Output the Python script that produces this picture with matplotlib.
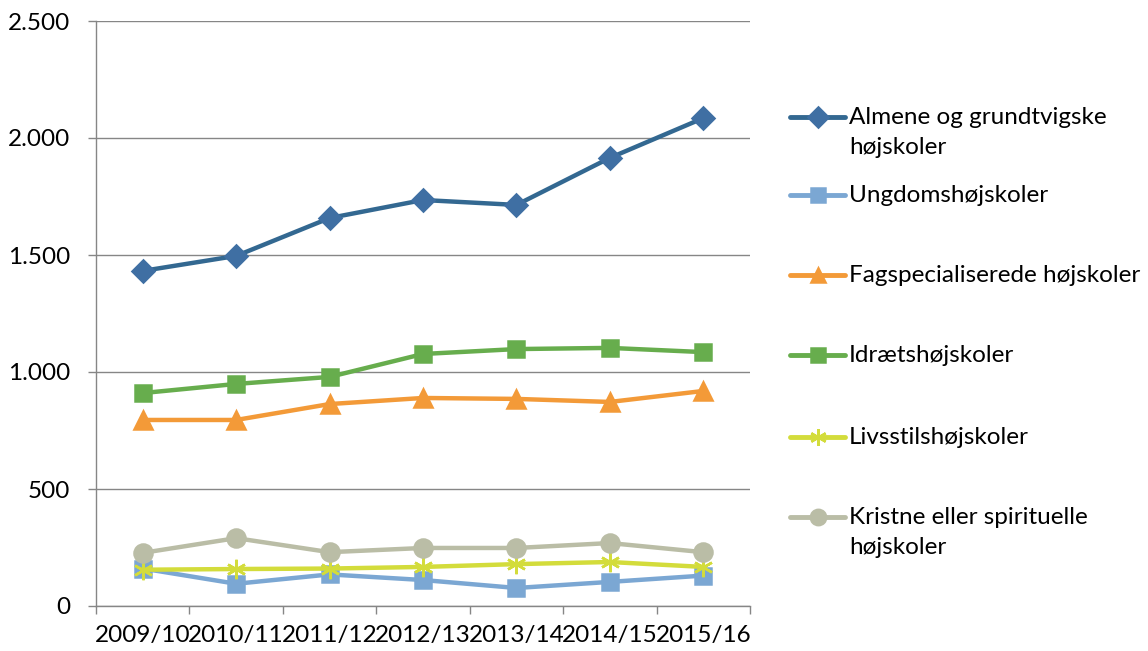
import matplotlib
matplotlib.use('Agg')
from matplotlib import pyplot as plt
from matplotlib.lines import Line2D

plt.rcParams['font.family'] = ['Lato', 'DejaVu Sans']

years = ['2009/10', '2010/11', '2011/12', '2012/13', '2013/14', '2014/15', '2015/16']

almene = [1432, 1496, 1658, 1735, 1714, 1915, 2085]
ungdom = [160, 95, 135, 111, 77, 103, 130]
fagspec = [795, 795, 863, 889, 885, 872, 919]
idraet = [910, 949, 979, 1077, 1098, 1103, 1085]
livsstil = [155, 158, 160, 167, 179, 188, 167]
kristne = [227, 290, 230, 248, 248, 269, 230]

labels = ['Almene og grundtvigske\nhøjskoler', 'Ungdomshøjskoler',
          'Fagspecialiserede højskoler', 'Idrætshøjskoler',
          'Livsstilshøjskoler', 'Kristne eller spirituelle\nhøjskoler']
series = [almene, ungdom, fagspec, idraet, livsstil, kristne]
colors = ['#336891', '#7BA7D3', '#F39A38', '#67AD4D', '#D3DC3B', '#BABDA6']
mcolors = ['#3F6FA3', '#7BA7D3', '#F39A38', '#67AD4D', '#D3DC3B', '#BABDA6']
markers = ['D', 's', '^', 's', (6, 2, 0), 'o']
msizes = [11.5, 12, 12.5, 12, 14, 13]
FS = 17.5

fig = plt.figure(figsize=(11.48, 6.51), dpi=100)
ax = fig.add_axes([96 / 1148, 45 / 651, 654 / 1148, 585 / 651])

x = list(range(len(years)))
for vals, c, mc, m, ms in zip(series, colors, mcolors, markers, msizes):
    ax.plot(x, vals, color=c, lw=3.2, marker=m, ms=ms, mfc=mc, mec=mc,
            mew=1.8, zorder=3)

ax.set_xlim(-0.5, len(years) - 0.5)
ax.set_ylim(0, 2500)
ax.set_yticks(range(0, 2501, 500))
ax.set_yticklabels(['0', '500', '1.000', '1.500', '2.000', '2.500'])
ax.set_xticks(x)
ax.set_xticklabels(years)
ax.set_xticks([i - 0.5 for i in range(len(years) + 1)], minor=True)
ax.tick_params(axis='x', which='major', length=0, pad=14, labelsize=FS)
ax.tick_params(axis='x', which='minor', length=5.5, color='#868686', width=1)
ax.tick_params(axis='y', length=5.5, color='#868686', width=1, pad=13, labelsize=FS)
ax.grid(axis='y', color='#868686', lw=1)
ax.set_axisbelow(True)
for s in ['top', 'right']:
    ax.spines[s].set_visible(False)
for s in ['left', 'bottom']:
    ax.spines[s].set_color('#868686')
    ax.spines[s].set_linewidth(1)

# legend drawn by hand so the handle sits on the first text line
leg_y = [117, 195, 275, 355, 437, 517]
for lab, c, mc, m, ms, yy in zip(labels, colors, mcolors, markers, msizes, leg_y):
    yf = 1 - yy / 651
    fig.add_artist(Line2D([790 / 1148, 845 / 1148], [yf, yf], color=c, lw=3.5,
                          solid_capstyle='round'))
    fig.add_artist(Line2D([818 / 1148], [yf], color=c, marker=m, ms=ms * 0.85,
                          mfc=mc, mec=mc, mew=1.8))
    for k, part in enumerate(lab.split('\n')):
        fig.text(849 / 1148, 1 - (yy + 7 + 30 * k) / 651, part, fontsize=FS,
                 va='baseline', ha='left')

fig.savefig('out.png', dpi=100)
